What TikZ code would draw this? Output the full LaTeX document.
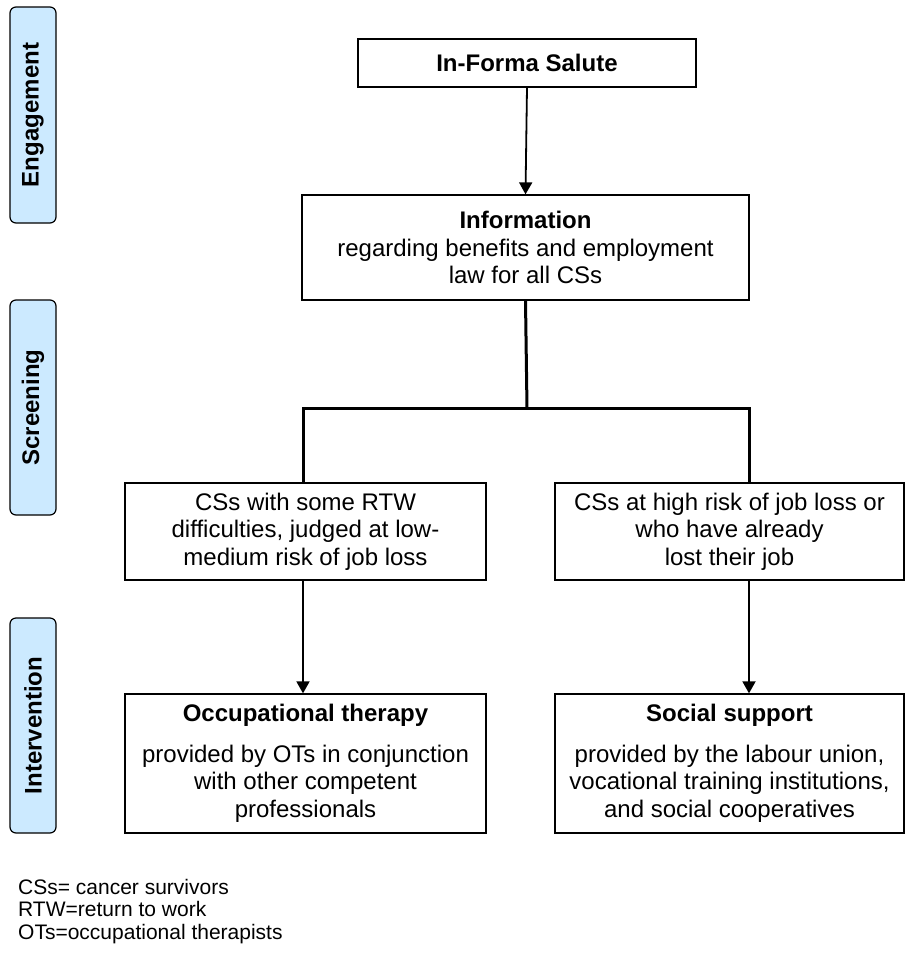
\documentclass[tikz,border=0pt]{standalone}
\usepackage{fontspec}
\setmainfont{Liberation Sans}
\usetikzlibrary{arrows.meta,calc}
\definecolor{lblue}{RGB}{204,234,255}
\begin{document}
\begin{tikzpicture}[x=1pt,y=-1pt,
  boxstyle/.style={draw=black,line width=1.3pt,fill=white,align=center,inner sep=0pt,
     font=\fontsize{24}{27.5}\selectfont},
  lbl/.style={draw=black,line width=1.2pt,fill=lblue,rounded corners=6pt,inner sep=0pt,
     minimum width=46pt,font=\bfseries\fontsize{24}{27}\selectfont},
  thick conn/.style={line width=3pt},
  arr/.style={line width=1.8pt,-{Triangle[length=12pt,width=13pt]}},
  every node/.append style={text=black}]
\useasboundingbox (0,0) rectangle (905,954);

% phase labels
\node[lbl,minimum height=216pt] (eng) at (33,115) {\rotatebox{90}{Engagement}};
\node[lbl,minimum height=215pt] (scr) at (33,407.5) {\rotatebox{90}{Screening}};
\node[lbl,minimum height=215pt] (int) at (33,725.5) {\rotatebox{90}{Intervention}};

% boxes
\node[boxstyle,minimum width=338pt,minimum height=48pt] (top) at (527,63) {\textbf{In-Forma Salute}};
\node[boxstyle,minimum width=447pt,minimum height=105pt] (info) at (525.5,247.5)
  {\textbf{Information}\\regarding benefits and employment\\law for all CSs};
\node[boxstyle,minimum width=361pt,minimum height=97pt] (left) at (305.5,531.5)
  {CSs with some RTW\\difficulties, judged at low-\\medium risk of job loss};
\node[boxstyle,minimum width=349pt,minimum height=97pt] (right) at (729.5,531.5)
  {CSs at high risk of job loss or\\who have already\\lost their job};
\node[boxstyle,minimum width=361pt,minimum height=139pt] (occ) at (305.5,763.5)
  {\textbf{Occupational therapy}\\[13pt]provided by OTs in conjunction\\with other competent\\professionals};
\node[boxstyle,minimum width=349pt,minimum height=139pt] (soc) at (729.5,763.5)
  {\textbf{Social support}\\[13pt]provided by the labour union,\\vocational training institutions,\\and social cooperatives};

% connectors
\coordinate (jc) at (527,408);
\coordinate (jl) at (303,408);
\coordinate (jr) at (749,408);
\draw[arr] (top.south) -- (info.north);
\draw[thick conn] (info.south) -- (jc);
\draw[thick conn,line cap=rect] (jl) -- (jr);
\draw[thick conn] (jl) -- (jl |- left.north);
\draw[thick conn] (jr) -- (jr |- right.north);
\draw[arr] (jl |- left.south) -- (jl |- occ.north);
\draw[arr] (jr |- right.south) -- (jr |- soc.north);

% footnote
\node[anchor=north west,align=left,inner sep=0pt,font=\fontsize{21}{22.5}\selectfont] (note) at (18,879)
  {CSs= cancer survivors\\RTW=return to work\\OTs=occupational therapists};
\end{tikzpicture}
\end{document}
